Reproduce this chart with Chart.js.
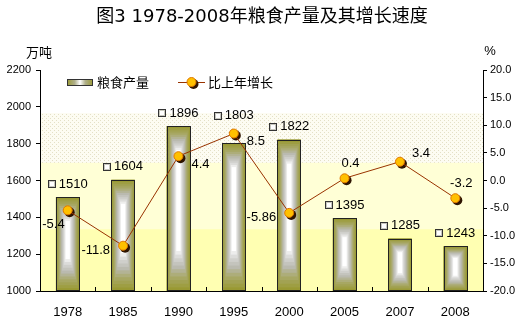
<!DOCTYPE html>
<html>
<head>
<meta charset="utf-8">
<script src="https://cdn.jsdelivr.net/npm/chart.js@4.4.1/dist/chart.umd.min.js"></script>
<style>
  html, body { margin: 0; padding: 0; background: #fff; }
</style>
</head>
<body>
<canvas id="grafico" width="524" height="325"></canvas>
<script>
const years = ["1978", "1985", "1990", "1995", "2000", "2005", "2007", "2008"];
const grainOutput = [1510, 1604, 1896, 1803, 1822, 1395, 1285, 1243];
const growthRate = [-5.4, -11.8, 4.4, 8.5, -5.86, 0.4, 3.4, -3.2];
const leftTicks = [1000, 1200, 1400, 1600, 1800, 2000, 2200];
const rightTicks = [-20, -15, -10, -5, 0, 5, 10, 15, 20];

// where each growth label sits relative to its point
const growthLabelPlace = ["belowLeft", "left", "right", "right", "left", "above", "aboveRight", "above"];

const titleText = "图3 1978-2008年粮食产量及其增长速度";
const cjk = '"Noto Sans CJK SC", "Noto Sans", sans-serif';
const latin = 'Arial, "Liberation Sans", sans-serif';

const olive = "#999933";

function mix(a, b, t) {
  return a.map((v, i) => Math.round(v + (b[i] - v) * t));
}

const boxStops = [
  [0, [153, 153, 51]],
  [0.3, [168, 168, 104]],
  [0.55, [186, 186, 176]],
  [0.8, [216, 216, 214]],
  [1, [255, 255, 255]],
];

function boxColor(t) {
  for (let i = 1; i < boxStops.length; i++) {
    if (t <= boxStops[i][0]) {
      const a = boxStops[i - 1];
      const b = boxStops[i];
      const c = mix(a[1], b[1], (t - a[0]) / (b[0] - a[0]));
      return `rgb(${c[0]},${c[1]},${c[2]})`;
    }
  }
  return "#fff";
}

function drawBoxBar(ctx, left, top, w, h) {
  const n = 12;
  for (let i = 0; i < n; i++) {
    const t = i / (n - 1);
    const dx = t * w * 0.41;
    const dTop = t * Math.min(h * 0.26, 24);
    const dBot = t * Math.min(h * 0.34, 40);
    ctx.fillStyle = boxColor(t);
    ctx.fillRect(left + dx, top + dTop, w - 2 * dx, h - dTop - dBot);
  }
  ctx.strokeStyle = "#222";
  ctx.lineWidth = 1;
  ctx.strokeRect(Math.round(left) + 0.5, Math.round(top) + 0.5, Math.round(w) - 1, Math.round(h) - 1);
}

function dotPattern(ctx) {
  const p = document.createElement("canvas");
  p.width = 4;
  p.height = 4;
  const pc = p.getContext("2d");
  pc.fillStyle = "#FDFCF2";
  pc.fillRect(0, 0, 4, 4);
  pc.fillStyle = "#E4E0C6";
  pc.fillRect(0, 0, 1, 1);
  pc.fillRect(2, 2, 1, 1);
  return ctx.createPattern(p, "repeat");
}

function drawLabelKey(ctx, x, y) {
  ctx.fillStyle = "#8A8A7A";
  ctx.fillRect(x, y - 4, 8, 8);
  ctx.fillStyle = "#C8C8BE";
  ctx.fillRect(x + 1, y - 3, 6, 6);
  ctx.fillStyle = "#fff";
  ctx.fillRect(x + 2, y - 2, 4, 4);
  ctx.strokeStyle = "#333";
  ctx.lineWidth = 1;
  ctx.strokeRect(x + 0.5, y - 3.5, 7, 7);
}

function drawPoint(ctx, x, y) {
  ctx.beginPath();
  ctx.arc(x + 2, y + 2, 5, 0, Math.PI * 2);
  ctx.fillStyle = "#2E1400";
  ctx.fill();
  ctx.beginPath();
  ctx.arc(x, y, 4.5, 0, Math.PI * 2);
  ctx.fillStyle = "#FFC000";
  ctx.fill();
  ctx.strokeStyle = "#E07800";
  ctx.lineWidth = 1;
  ctx.stroke();
}

const decorPlugin = {
  id: "decor",
  beforeDraw(chart) {
    const { ctx, chartArea: ca } = chart;
    const h = ca.bottom - ca.top;
    ctx.save();
    ctx.fillStyle = "#fff";
    ctx.fillRect(ca.left, ca.top, ca.right - ca.left, h);
    ctx.fillStyle = dotPattern(ctx);
    ctx.fillRect(ca.left, ca.top + h * 0.195, ca.right - ca.left, h * 0.23);
    ctx.fillStyle = "#FFFFD6";
    ctx.fillRect(ca.left, ca.top + h * 0.42, ca.right - ca.left, h * 0.3);
    ctx.fillStyle = "#FFFFB2";
    ctx.fillRect(ca.left, ca.top + h * 0.72, ca.right - ca.left, h * 0.28);
    ctx.restore();
  },
  afterDatasetDraw(chart, args) {
    if (args.index !== 0) return;
    const ctx = chart.ctx;
    const ca = chart.chartArea;
    ctx.save();
    args.meta.data.forEach((el) => {
      const p = el.getProps(["x", "y", "base", "width"], true);
      const top = Math.max(p.y, ca.top);
      const bottom = Math.min(p.base, ca.bottom);
      drawBoxBar(ctx, p.x - p.width / 2, top, p.width, bottom - top);
    });
    ctx.restore();
  },
  beforeDatasetDraw(chart, args) {
    if (args.index !== 1) return;
    // shadows under the markers
    const ctx = chart.ctx;
    ctx.save();
    args.meta.data.forEach((el) => {
      ctx.beginPath();
      ctx.arc(el.x + 2, el.y + 2, 5, 0, Math.PI * 2);
      ctx.fillStyle = "#2E1400";
      ctx.fill();
    });
    ctx.restore();
  },
  afterDraw(chart) {
    const { ctx, chartArea: ca } = chart;
    const xs = chart.scales.x;
    ctx.save();

    // title
    ctx.fillStyle = "#000";
    ctx.font = '18px "DejaVu Sans", ' + cjk;
    ctx.textAlign = "center";
    ctx.textBaseline = "middle";
    ctx.fillText(titleText, 262, 17);

    // axis units
    ctx.font = "13px " + cjk;
    ctx.fillText("万吨", 39, 52);
    ctx.font = "13px " + latin;
    ctx.fillText("%", 490, 51);

    // inner x tick marks
    ctx.strokeStyle = "#000";
    ctx.lineWidth = 1;
    for (let i = 1; i < years.length; i++) {
      const x = Math.round((xs.getPixelForValue(i - 1) + xs.getPixelForValue(i)) / 2) + 0.5;
      ctx.beginPath();
      ctx.moveTo(x, ca.bottom);
      ctx.lineTo(x, ca.bottom - 4);
      ctx.stroke();
    }

    // legend
    const lx = ca.left + 27;
    const ly = ca.top + 12;
    const g = ctx.createLinearGradient(lx, 0, lx + 26, 0);
    g.addColorStop(0, olive);
    g.addColorStop(0.3, "#B0B08C");
    g.addColorStop(0.5, "#FFFFFF");
    g.addColorStop(0.7, "#B0B08C");
    g.addColorStop(1, olive);
    ctx.fillStyle = g;
    ctx.fillRect(lx, ly - 3, 26, 7);
    ctx.strokeStyle = "#333";
    ctx.strokeRect(lx + 0.5, ly - 2.5, 25, 6);
    ctx.fillStyle = "#000";
    ctx.font = "13px " + cjk;
    ctx.textAlign = "left";
    ctx.fillText(chart.data.datasets[0].label, lx + 30, ly);

    ctx.strokeStyle = "#993300";
    ctx.beginPath();
    ctx.moveTo(lx + 111, ly + 0.5);
    ctx.lineTo(lx + 138, ly + 0.5);
    ctx.stroke();
    drawPoint(ctx, lx + 124.5, ly);
    ctx.fillStyle = "#000";
    ctx.fillText(chart.data.datasets[1].label, lx + 141, ly);

    // bar value labels, lifted above the growth marker when they would collide
    const pts = chart.getDatasetMeta(1).data;
    ctx.font = "13px " + latin;
    chart.getDatasetMeta(0).data.forEach((el, i) => {
      const text = String(grainOutput[i]);
      const tw = ctx.measureText(text).width;
      const total = 8 + 3 + tw;
      const sx = el.x - total / 2;
      let y = el.y - 13;
      if (Math.abs(pts[i].y - y) < 12) y = pts[i].y - 18;
      drawLabelKey(ctx, Math.round(sx), Math.round(y));
      ctx.fillStyle = "#000";
      ctx.textAlign = "left";
      ctx.fillText(text, sx + 11, y);
    });

    // growth labels
    pts.forEach((el, i) => {
      const text = String(growthRate[i]);
      const place = growthLabelPlace[i];
      let x = el.x, y = el.y;
      if (place === "left") {
        ctx.textAlign = "right"; x -= 13; y += 5;
      } else if (place === "belowLeft") {
        ctx.textAlign = "right"; x -= 3; y += 14;
      } else if (place === "right") {
        ctx.textAlign = "left"; x += 13; y += 8;
      } else if (place === "aboveRight") {
        ctx.textAlign = "left"; x += 12; y -= 8;
      } else {
        ctx.textAlign = "center"; x += 6; y -= 15;
      }
      ctx.fillStyle = "#000";
      ctx.fillText(text, x, y);
    });

    ctx.restore();
  },
};

const ctx = document.getElementById("grafico").getContext("2d");

new Chart(ctx, {
  data: {
    labels: years,
    datasets: [
      {
        type: "bar",
        label: "粮食产量",
        data: grainOutput,
        yAxisID: "y",
        backgroundColor: olive,
        borderWidth: 0,
        barPercentage: 0.85,
        categoryPercentage: 0.5,
        order: 2,
      },
      {
        type: "line",
        label: "比上年增长",
        data: growthRate,
        yAxisID: "y1",
        borderColor: "#993300",
        borderWidth: 1,
        pointRadius: 4.5,
        pointBackgroundColor: "#FFC000",
        pointBorderColor: "#E07800",
        pointBorderWidth: 1,
        tension: 0,
        order: 1,
      },
    ],
  },
  options: {
    responsive: false,
    animation: false,
    devicePixelRatio: 1,
    layout: { padding: { top: 70, left: 0, right: 0, bottom: 0 } },
    plugins: {
      legend: { display: false },
      title: { display: false },
      tooltip: { enabled: false },
    },
    scales: {
      x: {
        grid: { display: false, drawTicks: false },
        border: { display: true, color: "#000", width: 1 },
        ticks: { color: "#000", font: { size: 13, family: latin }, padding: 14 },
        afterFit(s) { s.height = 34; },
      },
      y: {
        position: "left",
        min: leftTicks[0],
        max: leftTicks[leftTicks.length - 1],
        afterBuildTicks(s) { s.ticks = leftTicks.map((v) => ({ value: v })); },
        grid: { drawOnChartArea: false, tickLength: 4, color: "#000" },
        border: { display: true, color: "#000", width: 1 },
        ticks: {
          color: "#000",
          font: { size: 11, family: latin },
          padding: 5,
          callback: (v) => String(v),
        },
        afterFit(s) { s.width = 40; },
      },
      y1: {
        position: "right",
        min: rightTicks[0],
        max: rightTicks[rightTicks.length - 1],
        afterBuildTicks(s) { s.ticks = rightTicks.map((v) => ({ value: v })); },
        grid: { drawOnChartArea: false, tickLength: 4, color: "#000" },
        border: { display: true, color: "#000", width: 1 },
        ticks: {
          color: "#000",
          font: { size: 11, family: latin },
          padding: 3,
          callback: (v) => Number(v).toFixed(1),
        },
        afterFit(s) { s.width = 41; },
      },
    },
  },
  plugins: [decorPlugin],
});
</script>
</body>
</html>
